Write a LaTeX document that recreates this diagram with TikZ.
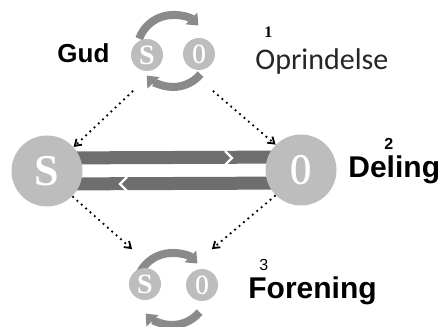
\documentclass[tikz,border=0pt]{standalone}
\usepackage{fontspec}
\setmainfont{Liberation Serif}
\setsansfont{Liberation Sans}
\newfontfamily\calibrifont{Carlito}
\usetikzlibrary{arrows.meta,calc}
\definecolor{ballgray}{HTML}{BDBDBD}
\definecolor{bargray}{HTML}{6E6E6E}
\definecolor{ringgray}{HTML}{8A8A8A}
\tikzset{
	bigball/.style={circle, fill=ballgray, minimum size=35.5pt, inner sep=0pt, text=white, font=\rmfamily\bfseries\fontsize{22}{22}\selectfont},
	smallball/.style={circle, fill=ballgray, minimum size=16pt, inner sep=0pt, text=white, font=\rmfamily\bfseries\fontsize{14}{14}\selectfont},
	ring/.style={draw=ringgray, line width=4pt, -{Triangle[length=5pt,width=8pt]}},
	bar/.style={draw=bargray, line width=6.5pt},
	gap/.style={draw=white, line width=1.2pt},
	dotline/.style={dotted, line width=0.9pt, -{Straight Barb[length=3pt,width=4pt]}},
	zone/.style={circle, minimum size=56pt, inner sep=0pt},
	word/.style={anchor=base west, inner sep=0pt, font=\sffamily\bfseries\fontsize{15}{15}\selectfont},
	nr/.style={anchor=base west, inner sep=0pt, font=\sffamily\bfseries\fontsize{8}{8}\selectfont}
}
% two arcs running round a centre, clockwise
\def\loopring(#1){
	\draw[ring] ($(#1)+(160:36)$) arc (160:45:36);
	\draw[ring] ($(#1)+(-40:36)$) arc (-40:-137:36);
}
\def\thinO{\scalebox{0.62}[1]{O}}

\begin{document}
\begin{tikzpicture}[x=0.5pt, y=0.5pt]
	\useasboundingbox (0,0) rectangle (443,326);
	%%%%% START %%%%%
	% 1 - origin
	\coordinate (gudc) at (173,275);
	\loopring(gudc)
	\node[smallball] (gudS) at (147,271) {S};
	\node[smallball] (gudO) at (199,272) {\thinO};
	\node[zone] (gud) at (gudc) {};
	
	% 2 - split
	\coordinate (s) at (47,155);
	\coordinate (o) at (301,156);
	\draw[bar] ([yshift=6.5pt]s) -- ([yshift=6.5pt]o);
	\draw[bar] ([yshift=-6.5pt]s) -- ([yshift=-6.5pt]o);
	\draw[gap] (225,175) -- (232,168) -- (225,161);
	\draw[gap] (127,149) -- (120,142) -- (127,135);
	\node[bigball] (sbig) at (s) {S};
	\node[bigball] (obig) at (o) {\thinO};
	
	% 3 - union
	\coordinate (forc) at (172,37);
	\loopring(forc)
	\node[smallball] (forS) at (145,42) {S};
	\node[smallball] (forO) at (202,41) {\thinO};
	\node[zone] (foren) at (forc) {};
	
	\draw[dotline] (gud.225) -- (sbig.42);
	\draw[dotline] (gud.-45) -- (obig.135);
	\draw[dotline] (sbig.-45) -- (foren.135);
	\draw[dotline] (obig.-135) -- (foren.45);
	
	\node[word, font=\sffamily\bfseries\fontsize{13}{13}\selectfont] (gudtxt) at (57,263) {Gud};
	\node[nr, font=\rmfamily\bfseries\fontsize{8}{8}\selectfont] (nr1) at (264,288) {1};
	\node[word, font=\calibrifont\fontsize{15}{15}\selectfont, text=black!85] (oprtxt) at (255,256) {Oprindelse};
	\node[nr] (nr2) at (384,176) {2};
	\node[word] (deltxt) at (348,148) {Deling};
	\node[nr, font=\sffamily\fontsize{8}{8}\selectfont] (nr3) at (259,55) {3};
	\node[word] (fortxt) at (248,28) {Forening};
	%%%%% END %%%%%
\end{tikzpicture}
\end{document}
